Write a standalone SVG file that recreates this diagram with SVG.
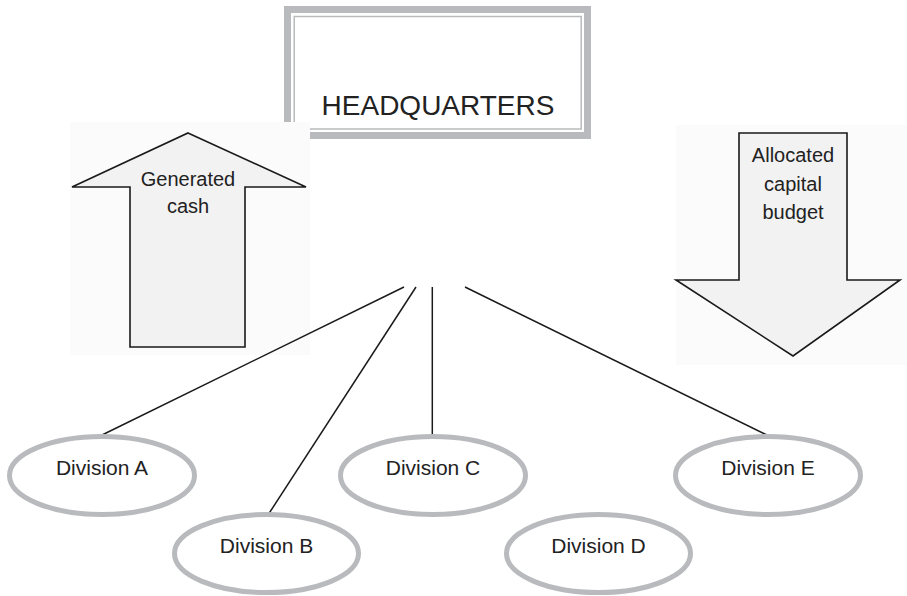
<svg xmlns="http://www.w3.org/2000/svg" width="907" height="596" viewBox="0 0 907 596">
<style>
text{font-family:"Liberation Sans",Arial,sans-serif;fill:#222;text-anchor:middle}
.arrow{fill:#f2f2f2;stroke:#1a1a1a;stroke-width:1.6;stroke-linejoin:miter}
.div{fill:#fff;stroke:#b9babd;stroke-width:5}
.conn line{stroke:#1a1a1a;stroke-width:1.5}
.bg{fill:#fbfbfb}
</style>
<rect width="907" height="596" fill="#fff"/>
<g id="headquarters">
<rect x="287.5" y="9.5" width="300" height="126" fill="#fff" stroke="#b9babd" stroke-width="7"/>
<rect x="294.2" y="16.5" width="287" height="112.5" fill="none" stroke="#b9babd" stroke-width="1.5"/>
<text x="438" y="115" font-size="28">HEADQUARTERS</text>
</g>
<g id="generated-cash">
<rect class="bg" x="70" y="122" width="240" height="233"/>
<path class="arrow" d="M188,133 L306,187 L245,187 L245,347 L130,347 L130,187 L72,187 Z"/>
<text x="188" y="186" font-size="20">Generated</text>
<text x="188" y="213" font-size="20">cash</text>
</g>
<g id="allocated-capital-budget">
<rect class="bg" x="676" y="125" width="231" height="240"/>
<path class="arrow" d="M739,133 L847,133 L847,280 L900,280 L793,356 L676,280 L739,280 Z"/>
<text x="793" y="162" font-size="20">Allocated</text>
<text x="793" y="191" font-size="20">capital</text>
<text x="793" y="219" font-size="20">budget</text>
</g>
<g class="conn" id="connectors">
<line x1="404" y1="287" x2="100" y2="436"/>
<line x1="416" y1="287" x2="268" y2="515"/>
<line x1="432.3" y1="287" x2="432.3" y2="437"/>
<line x1="465" y1="287" x2="771" y2="437"/>
</g>
<g id="division-a">
<ellipse class="div" cx="102" cy="475.5" rx="92.5" ry="39"/>
<text x="102" y="475" font-size="21">Division A</text>
</g>
<g id="division-b">
<ellipse class="div" cx="266.5" cy="553.5" rx="92" ry="39"/>
<text x="266.5" y="553" font-size="21">Division B</text>
</g>
<g id="division-c">
<ellipse class="div" cx="433" cy="475.5" rx="92.5" ry="39"/>
<text x="433" y="475" font-size="21">Division C</text>
</g>
<g id="division-d">
<ellipse class="div" cx="598.5" cy="553.5" rx="92" ry="39"/>
<text x="598.5" y="553" font-size="21">Division D</text>
</g>
<g id="division-e">
<ellipse class="div" cx="768" cy="475.5" rx="92.5" ry="39"/>
<text x="768" y="475" font-size="21">Division E</text>
</g>
</svg>
